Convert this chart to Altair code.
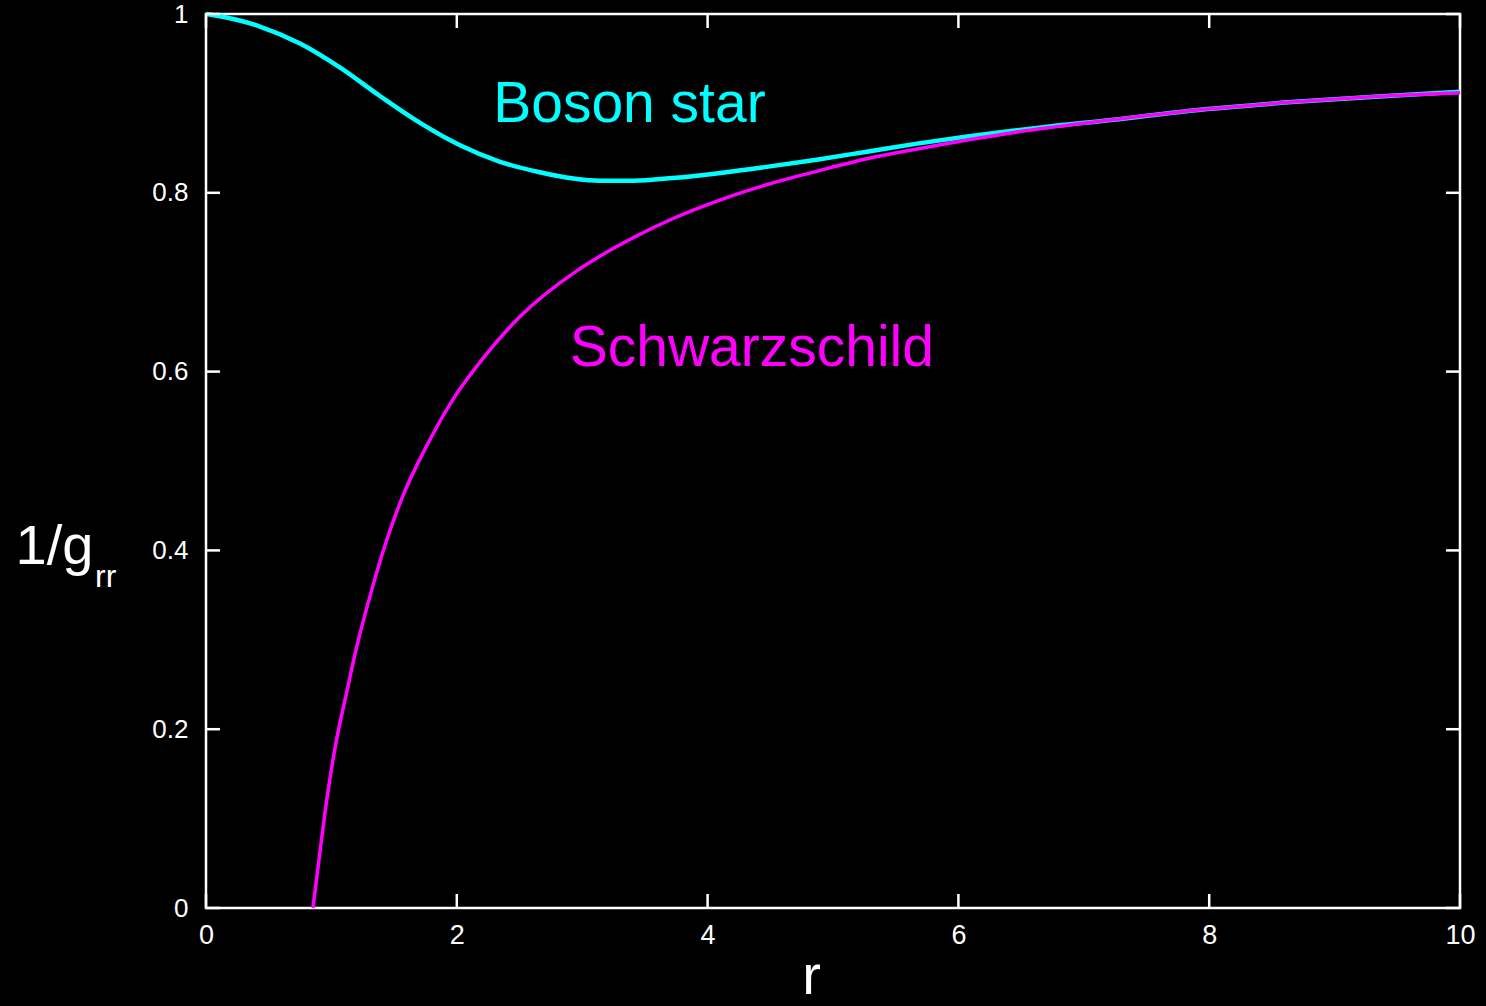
import altair as alt
import pandas as pd

# ---- data ----
boson_r = [0, 0.09, 0.43, 0.75, 1.07, 1.39, 1.71, 2.03, 2.34, 2.66, 2.93, 3.14, 3.41,
           3.72, 4.12, 4.47, 4.87, 5.27, 5.67, 6.07, 6.47, 6.71, 7.13, 7.93, 8.72, 9.52, 10]
boson_v = [1.0, 0.998, 0.986, 0.967, 0.940, 0.908, 0.878, 0.853, 0.835, 0.823, 0.816, 0.8135, 0.8135,
           0.8165, 0.8225, 0.829, 0.837, 0.846, 0.855, 0.863, 0.870, 0.874, 0.880, 0.893, 0.902, 0.909, 0.913]

schw_r = [0.853, 0.91, 0.96, 1.03, 1.12, 1.20, 1.31, 1.44, 1.57, 1.76, 1.97, 2.21, 2.50, 2.96,
          3.14, 3.41, 3.72, 4.12, 4.47, 4.87, 5.27, 5.67, 6.07, 6.47, 7.13, 7.93, 8.72, 9.52, 10]
schw_v = [0.0, 0.064, 0.118, 0.180, 0.240, 0.291, 0.350, 0.411, 0.461, 0.517, 0.569, 0.615, 0.661, 0.713,
          0.729, 0.750, 0.771, 0.793, 0.809, 0.824, 0.838, 0.849, 0.859, 0.868, 0.880, 0.893, 0.902, 0.909, 0.912]

x_ticks = [0, 2, 4, 6, 8, 10]
y_ticks = [0, 0.2, 0.4, 0.6, 0.8, 1.0]

labels = ["Boson star", "Schwarzschild"]
label_r = [2.29, 2.90]
label_v = [0.879, 0.606]
label_colors = ["#00FFFF", "#FF00FF"]

W, H = 1254, 894
TICK = 14

boson = pd.DataFrame({"r": boson_r, "v": boson_v})
schw = pd.DataFrame({"r": schw_r, "v": schw_v})
xt = pd.DataFrame({"t": x_ticks})
yt = pd.DataFrame({"t": y_ticks})
lab = pd.DataFrame({"r": label_r, "v": label_v, "text": labels, "color": label_colors})

xscale = alt.Scale(domain=[0, 10], nice=False, zero=False)
yscale = alt.Scale(domain=[0, 1], nice=False, zero=False)

xaxis = alt.Axis(values=x_ticks, format="d", ticks=False, domain=False, grid=False,
                 labelColor="white", labelFont="Liberation Sans", labelFontSize=27,
                 labelPadding=14, labelFlush=False,
                 title="r", titleColor="white", titleFont="Liberation Sans",
                 titleFontSize=56, titleFontWeight="normal",
                 titleX=605, titleY=85, titleBaseline="alphabetic", titleAlign="center")
yaxis = alt.Axis(values=y_ticks, labelExpr="datum.value == 0 ? '0' : datum.value == 1 ? '1' : format(datum.value, '.1f')",
                 ticks=False, domain=False, grid=False,
                 labelColor="white", labelFont="Liberation Sans", labelFontSize=26,
                 labelPadding=18, labelFlush=False,
                 title="1/g", titleColor="white", titleFont="Liberation Sans",
                 titleFontSize=56, titleFontWeight="normal", titleAngle=0,
                 titleX=-191, titleY=549, titleAlign="left", titleBaseline="alphabetic")

base_x = alt.X("r:Q", scale=xscale, axis=xaxis)
base_y = alt.Y("v:Q", scale=yscale, axis=yaxis)

boson_line = alt.Chart(boson).mark_line(color="#00FFFF", strokeWidth=4.5, interpolate="monotone").encode(
    x=base_x, y=base_y)
schw_line = alt.Chart(schw).mark_line(color="#FF00FF", strokeWidth=3.5, interpolate="monotone").encode(
    x=alt.X("r:Q", scale=xscale), y=alt.Y("v:Q", scale=yscale))

# inward ticks on all four sides
xt_bottom = alt.Chart(xt).mark_rule(color="white", strokeWidth=2.5).encode(
    x=alt.X("t:Q", scale=xscale), y=alt.value(H), y2=alt.value(H - TICK))
xt_top = alt.Chart(xt).mark_rule(color="white", strokeWidth=2.5).encode(
    x=alt.X("t:Q", scale=xscale), y=alt.value(0), y2=alt.value(TICK))
yt_left = alt.Chart(yt).mark_rule(color="white", strokeWidth=2.5).encode(
    y=alt.Y("t:Q", scale=yscale), x=alt.value(0), x2=alt.value(TICK))
yt_right = alt.Chart(yt).mark_rule(color="white", strokeWidth=2.5).encode(
    y=alt.Y("t:Q", scale=yscale), x=alt.value(W - TICK), x2=alt.value(W))

texts = alt.Chart(lab).mark_text(align="left", baseline="alphabetic", font="Liberation Sans",
                                 fontSize=57).encode(
    x=alt.X("r:Q", scale=xscale), y=alt.Y("v:Q", scale=yscale),
    text="text:N", color=alt.Color("color:N", scale=None))

sub = alt.Chart(pd.DataFrame({"s": ["rr"]})).mark_text(
    align="left", baseline="alphabetic", font="Liberation Sans", fontSize=32, color="white").encode(
    x=alt.value(-111), y=alt.value(573), text="s:N")

chart = alt.layer(boson_line, schw_line, xt_bottom, xt_top, yt_left, yt_right, texts, sub).properties(
    width=W, height=H, background="black",
    autosize=alt.AutoSizeParams(type="none"),
    padding={"left": 206, "top": 14, "right": 26, "bottom": 98},
).configure_view(stroke="white", strokeWidth=2.5)

chart.save("out.html", embed_options={"renderer": "svg", "actions": False})
